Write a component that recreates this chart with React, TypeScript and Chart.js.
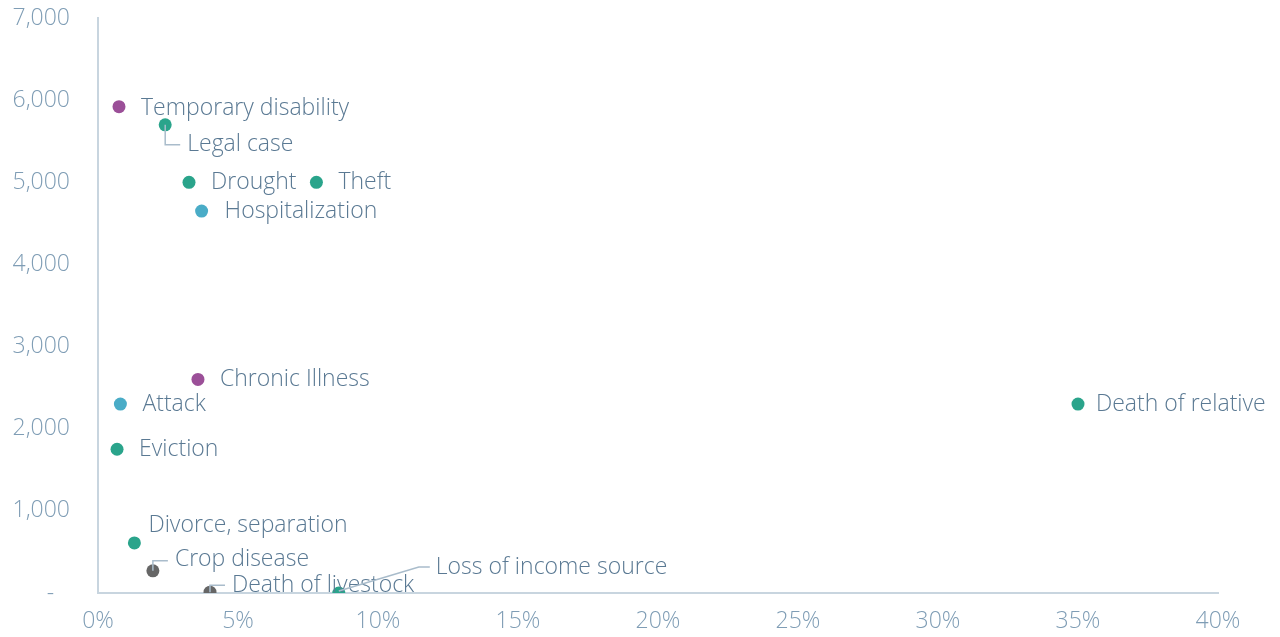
import React, { useEffect, useRef } from "react";
import { Chart, registerables } from "chart.js";

Chart.register(...registerables);

// ---- data ----
const shocks = [
  "Temporary disability",
  "Legal case",
  "Drought",
  "Theft",
  "Hospitalization",
  "Chronic Illness",
  "Attack",
  "Eviction",
  "Death of relative",
  "Divorce, separation",
  "Crop disease",
  "Death of livestock",
  "Loss of income source",
];
const shareHouseholds = [0.75, 2.4, 3.25, 7.8, 3.7, 3.57, 0.8, 0.68, 35.0, 1.3, 1.96, 4.0, 8.6];
const meanCost = [5920, 5700, 5000, 5000, 4650, 2600, 2300, 1750, 2300, 610, 270, 10, 0];
const shockGroup = [
  "health", "other", "other", "other", "care", "health", "care", "other",
  "other", "other", "agri", "agri", "other",
];
const xTicks = [0, 5, 10, 15, 20, 25, 30, 35, 40];
const yTicks = [0, 1000, 2000, 3000, 4000, 5000, 6000, 7000];

// ---- styles ----
const groupColors: Record<string, string> = {
  health: "#9b4f98",
  other: "#2aa48b",
  care: "#4aacc7",
  agri: "#666666",
};
const FONT = "'Open Sans', Roboto, sans-serif";
const LABEL_COLOR = "#5a7993";
const TICK_COLOR = "#7f9db5";
const AXIS_COLOR = "#c8d5df";

type Layout = { dx: number; dy: number; leader?: [number, number][] };
const labelLayout: Record<string, Layout> = {
  "Temporary disability": { dx: 22, dy: 2 },
  "Legal case": { dx: 22, dy: 20, leader: [[0, 0], [0, 20], [15, 20]] },
  Drought: { dx: 22, dy: 0 },
  Theft: { dx: 22, dy: 0 },
  Hospitalization: { dx: 23, dy: 0 },
  "Chronic Illness": { dx: 22, dy: 0 },
  Attack: { dx: 22, dy: 0 },
  Eviction: { dx: 22, dy: 0 },
  "Death of relative": { dx: 18, dy: 0 },
  "Divorce, separation": { dx: 14, dy: -17 },
  "Crop disease": { dx: 22, dy: -11, leader: [[0, 0], [0, -10], [15, -10]] },
  "Death of livestock": { dx: 22, dy: -7, leader: [[0, 0], [0, -7], [15, -7]] },
  "Loss of income source": { dx: 97, dy: -26, leader: [[0, -2], [80, -26], [91, -26]] },
};

const labelPlugin = {
  id: "pointLabels",
  afterDatasetsDraw(chart: any) {
    const ctx = chart.ctx;
    const meta = chart.getDatasetMeta(0);
    ctx.save();
    meta.data.forEach((pt: any, i: number) => {
      const name = shocks[i];
      const l = labelLayout[name];
      if (!l) return;
      if (l.leader) {
        ctx.beginPath();
        ctx.strokeStyle = "#a9bccb";
        ctx.lineWidth = 1.5;
        l.leader.forEach(([lx, ly], k) => {
          if (k === 0) ctx.moveTo(pt.x + lx, pt.y + ly);
          else ctx.lineTo(pt.x + lx, pt.y + ly);
        });
        ctx.stroke();
      }
      ctx.font = `300 23px ${FONT}`;
      ctx.fillStyle = LABEL_COLOR;
      ctx.textAlign = "left";
      ctx.textBaseline = "middle";
      ctx.fillText(name, pt.x + l.dx, pt.y + l.dy);
    });
    ctx.restore();
  },
};

export default function App() {
  const ref = useRef<HTMLCanvasElement | null>(null);
  useEffect(() => {
    if (!ref.current) return;
    const chart = new Chart(ref.current, {
      type: "scatter",
      data: {
        datasets: [
          {
            data: shareHouseholds.map((x, i) => ({ x, y: meanCost[i] })),
            pointBackgroundColor: shockGroup.map((g) => groupColors[g]),
            pointBorderWidth: 0,
            pointRadius: 6.5,
          },
        ],
      },
      options: {
        animation: false,
        responsive: false,
        maintainAspectRatio: false,
        layout: { padding: { top: 18, right: 62, left: 0, bottom: 0 }, autoPadding: false },
        plugins: { legend: { display: false }, tooltip: { enabled: false } },
        scales: {
          x: {
            type: "linear",
            min: 0,
            max: 40,
            afterBuildTicks: (s: any) => {
              s.ticks = xTicks.map((v) => ({ value: v }));
            },
            afterFit: (s: any) => {
              s.height = 44;
              s.paddingLeft = 0;
              s.paddingRight = 0;
            },
            grid: { display: false, drawTicks: false },
            border: { display: true, color: AXIS_COLOR, width: 2 },
            ticks: {
              color: TICK_COLOR,
              padding: 15,
              maxRotation: 0,
              font: { family: FONT, size: 23, weight: 300 as any },
              callback: (v: any) => `${v}%`,
            },
          },
          y: {
            type: "linear",
            min: 0,
            max: 7000,
            afterBuildTicks: (s: any) => {
              s.ticks = yTicks.map((v) => ({ value: v }));
            },
            afterFit: (s: any) => {
              s.width = 98;
              s.paddingTop = 0;
              s.paddingBottom = 0;
            },
            grid: { display: false, drawTicks: false },
            border: { display: true, color: AXIS_COLOR, width: 2 },
            ticks: {
              color: TICK_COLOR,
              padding: 28,
              font: { family: FONT, size: 23, weight: 300 as any },
              callback: (v: any) => (v === 0 ? "-  \u2009" : Number(v).toLocaleString("en-US")),
            },
          },
        },
      },
      plugins: [labelPlugin],
    });
    return () => chart.destroy();
  }, []);
  return (
    <div style={{ position: "fixed", left: 0, top: 0, width: 1280, height: 637, background: "#fff" }}>
      <canvas ref={ref} width={1280} height={637} style={{ width: 1280, height: 637 }} />
    </div>
  );
}
